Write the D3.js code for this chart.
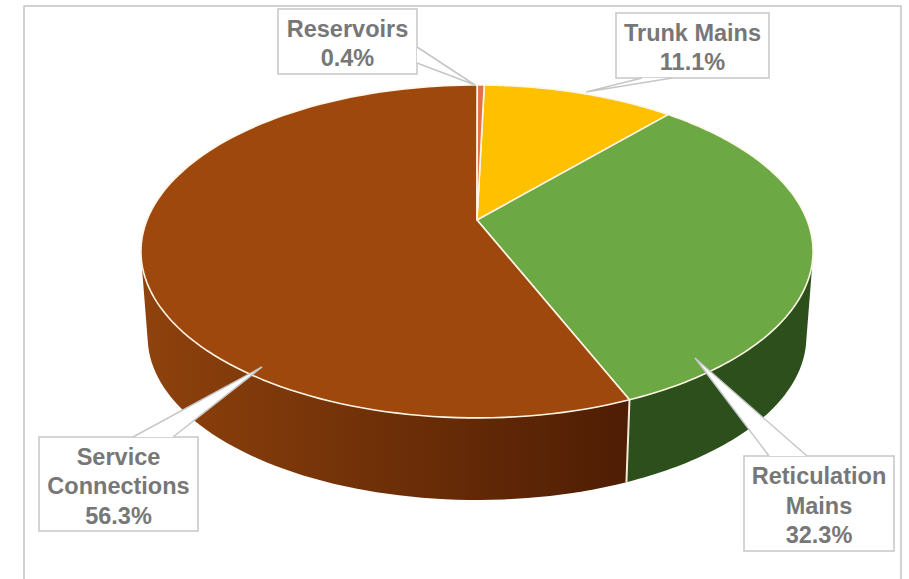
<!DOCTYPE html>
<html>
<head>
<meta charset="utf-8">
<script src="https://cdn.jsdelivr.net/npm/d3@7/dist/d3.min.js"></script>
<style>
  html, body { margin: 0; background: #fff; }
  svg { display: block; }
  text { font-family: "Liberation Sans", Arial, sans-serif; font-weight: 700; fill: #777; }
</style>
</head>
<body>
<svg id="chart" width="909" height="579"></svg>
<script>
// Network asset shares, in percent
const categories = ["Trunk Mains", "Reticulation Mains", "Service Connections", "Reservoirs"];
const shares = [11.1, 32.3, 56.3, 0.4];
const labelLines = [["Trunk Mains"], ["Reticulation", "Mains"], ["Service", "Connections"], ["Reservoirs"]];
const topColours = ["#ffc000", "#6ca843", "#9e480e", "#e2714a"];
const wallStops = [
  ["#c89a10", "#c89a10"],
  ["#2a4a1b", "#2d4f1c"],
  ["#8f420c", "#4e1d04"],
  ["#8f420c", "#8f420c"]
];

// Callout boxes and the point each one's leader reaches
const callouts = [
  { box: [616, 13, 153, 65], tip: [586, 92], root: [[642, 78], [672, 78]] },
  { box: [744, 456, 150, 95], tip: [695, 358], root: [[769, 456], [807, 456]] },
  { box: [39, 437, 159, 94], tip: [262, 367], root: [[133, 437], [173, 437]] },
  { box: [278, 9, 139, 65], tip: [475, 85], root: [[417, 47], [417, 63]] }
];

const svg = d3.select("#chart");
const defs = svg.append("defs");

// Tilted disc: a homography of the unit circle gives the near side more height than the far side
const tilt = 0.189, spanX = 330, spanY = 160.5;
const faceX = d3.scaleLinear().domain([-1, 1]).range([477 - 336, 477 + 336]);
const faceY = d3.scaleLinear().domain([-135, 198]).range([85, 418]);
const project = (angle, drop) => {
  const u = Math.sin(angle), v = -Math.cos(angle), w = 1 - tilt * v;
  const shrink = drop ? 0.98 : 1;
  return [
    faceX(spanX * u / w * shrink / 336),
    faceY(spanY * v / w * shrink) + (drop ? 86 : 0)
  ];
};

const pie = d3.pie().sort(null)
  .startAngle(1.5 * Math.PI / 180)
  .endAngle(2 * Math.PI + 1.5 * Math.PI / 180);
const arcs = pie(shares);
const line = d3.line();
const sweep = (a, b) => d3.range(0, 1.0001, 1 / 120).map(t => a + (b - a) * t);

// Outer frame of the figure
svg.append("path")
  .attr("d", "M24,579V6H901V579")
  .attr("fill", "none").attr("stroke", "#c4c4c4").attr("stroke-width", 1.5);

// Side walls: the hull of a slice's upper and lower arcs keeps the silhouette tangent at the sides
arcs.forEach((d, i) => {
  const id = "wall" + i;
  const g = defs.append("linearGradient").attr("id", id)
    .attr("gradientUnits", "userSpaceOnUse")
    .attr("x1", 141).attr("x2", 630).attr("y1", 0).attr("y2", 0);
  g.append("stop").attr("offset", 0).attr("stop-color", wallStops[i][0]);
  g.append("stop").attr("offset", 1).attr("stop-color", wallStops[i][1]);
  const angles = sweep(d.startAngle, d.endAngle);
  const hull = d3.polygonHull(angles.map(a => project(a, false))
    .concat(angles.map(a => project(a, true))));
  svg.append("path").attr("d", line(hull) + "Z").attr("fill", `url(#${id})`)
    .attr("stroke", "none");
});

// Seam between the two visible walls
const seam = arcs[1].endAngle;
svg.append("path").attr("d", line([project(seam, false), project(seam, true)]))
  .attr("stroke", "#f3ead8").attr("stroke-width", 2).attr("fill", "none");

// Top face
const hub = [faceX(0), faceY(0)];
arcs.forEach((d, i) => {
  const pts = [hub].concat(sweep(d.startAngle, d.endAngle).map(a => project(a, false)));
  svg.append("path").attr("d", line(pts) + "Z")
    .attr("fill", topColours[i])
    .attr("stroke", "#fff6e6").attr("stroke-width", 1.6).attr("stroke-linejoin", "round");
});

// Callouts
callouts.forEach((c, i) => {
  const [x, y, w, h] = c.box;
  svg.append("rect").attr("x", x).attr("y", y).attr("width", w).attr("height", h)
    .attr("fill", "#fff").attr("stroke", "#c6c6c6").attr("stroke-width", 1.5);
  svg.append("path").attr("d", line([c.root[0], c.tip, c.root[1]]) + "Z")
    .attr("fill", "#fff").attr("stroke", "none");
  svg.append("path").attr("d", line([c.root[0], c.tip, c.root[1]]))
    .attr("fill", "none").attr("stroke", "#c6c6c6").attr("stroke-width", 1.5);
  const lines = labelLines[i].concat(shares[i].toFixed(1) + "%");
  const lh = 29.5;
  const y0 = y + h / 2 - (lines.length - 1) * lh / 2 + 10;
  const t = svg.append("text").attr("text-anchor", "middle").attr("font-size", 23.5);
  lines.forEach((s, k) => {
    t.append("tspan").attr("x", x + w / 2).attr("y", y0 + k * lh).text(s);
  });
});
</script>
</body>
</html>
